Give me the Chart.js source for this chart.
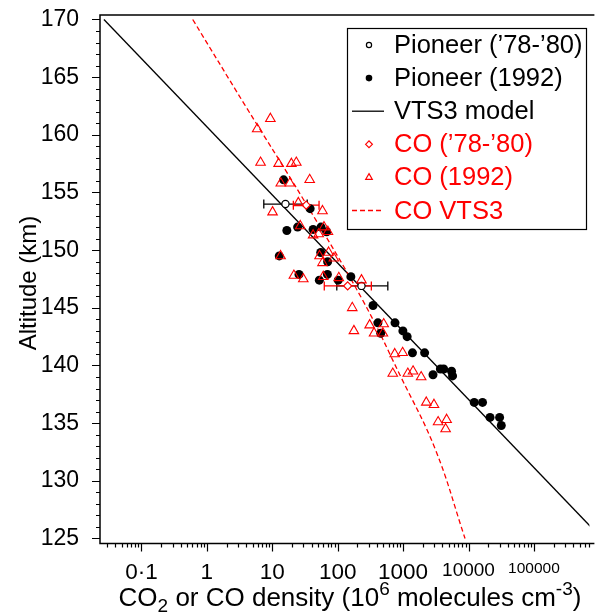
<!DOCTYPE html>
<html><head><meta charset="utf-8">
<script src="https://cdn.jsdelivr.net/npm/chart.js@4.4.1/dist/chart.umd.min.js"></script>
<style>html,body{margin:0;padding:0;background:#fff;overflow:hidden}canvas{display:block}</style>
</head><body>
<canvas id="c" width="596" height="615"></canvas>
<script>
// ---- tick labels ----
const xTickValues = [0.1, 1, 10, 100, 1000, 10000, 100000];
const xTickLabels = ['0·1', '1', '10', '100', '1000', '10000', '100000'];
const yTickValues = [125, 130, 135, 140, 145, 150, 155, 160, 165, 170];

// ---- Pioneer ('78-'80) CO2, with error bars ----
const pioneerOldDensity = [15.9, 231];
const pioneerOldAltitude = [154.0, 146.9];
const pioneerOldLow = [7.42, 96.9];
const pioneerOldHigh = [34.2, 584];

// ---- CO ('78-'80), with error bars ----
const coOldDensity = [33.0, 142];
const coOldAltitude = [153.9, 146.9];
const coOldLow = [21.0, 62.4];
const coOldHigh = [51.9, 327];

// ---- Pioneer (1992) CO2 ----
const pioneer1992Density = [14.9, 37.9, 16.7, 24.4, 42.1, 55.6, 67.8, 12.8, 55.0, 70.2, 25.6, 52.4, 69.7, 102, 159, 347, 412, 752, 455, 993, 1153, 1390, 2133, 2865, 3716, 4169, 5505, 5700, 12230, 16370, 21330, 29870, 31690];
const pioneer1992Altitude = [156.1, 153.6, 151.7, 152.0, 151.8, 152.0, 151.6, 149.5, 149.8, 149.0, 147.9, 147.4, 147.9, 147.4, 147.7, 145.2, 143.7, 143.7, 142.8, 143.0, 142.5, 141.1, 141.1, 139.2, 139.7, 139.7, 139.5, 139.1, 136.8, 136.8, 135.5, 135.5, 134.8];

// ---- CO (1992) ----
const co1992Density = [9.36, 5.88, 6.62, 12.5, 19.6, 23.3, 37.3, 13.5, 18.6, 25.0, 10.1, 58.6, 26.8, 42.1, 51.3, 61.7, 70.9, 13.4, 52.8, 72.6, 87.3, 58.6, 21.4, 29.8, 60.2, 104, 231, 167, 308, 505, 177, 360, 491, 745, 983, 695, 1181, 1420, 1888, 2262, 2966, 3430, 4626, 4467];
const co1992Altitude = [161.4, 160.5, 157.6, 157.5, 157.5, 157.6, 156.1, 155.8, 155.8, 154.1, 153.3, 153.4, 152.1, 151.3, 151.4, 152.0, 151.6, 149.5, 149.5, 149.8, 149.3, 148.9, 147.8, 147.5, 147.7, 147.6, 147.4, 145.0, 143.5, 143.6, 143.0, 142.8, 142.8, 141.0, 141.1, 139.3, 139.3, 139.5, 139.0, 136.8, 136.6, 135.1, 135.3, 134.5];

// ---- VTS3 model (CO2) ----
const vts3Density = [0.0267, 1.1e6];
const vts3Altitude = [170, 125];

// ---- CO VTS3 model ----
const coVts3Density = [0.608, 3.80, 30.3, 239, 926, 3125, 8850];
const coVts3Altitude = [170, 162.6, 154.35, 145.7, 139.0, 132.7, 125];

const FONT = "'Liberation Sans', Arial, Helvetica, sans-serif";
const RED = '#ff0000';
Chart.defaults.font.family = FONT;
Chart.defaults.color = '#000';

const pts = (xs, ys) => xs.map((v, i) => ({x: v, y: ys[i]}));

function errorBars(lo, hi, ys, color) {
  return lo.map((l, i) => ({
    label: '_err', data: [{x: l, y: ys[i]}, {x: hi[i], y: ys[i]}],
    showLine: true, borderColor: color, borderWidth: 1.3,
    pointStyle: 'line', pointRotation: 90, pointRadius: 4.5,
    pointBorderColor: color, pointBorderWidth: 1.3, order: 5
  }));
}

const datasets = [
  {label: 'CO (1992)', data: pts(co1992Density, co1992Altitude), pointStyle: 'triangle',
   pointRadius: 5.5, pointBorderColor: RED, pointBackgroundColor: 'rgba(0,0,0,0)', pointBorderWidth: 1.1, order: 1},
  {label: 'CO (’78-’80)', data: pts(coOldDensity, coOldAltitude), pointStyle: 'rectRot',
   pointRadius: 4, pointBorderColor: RED, pointBackgroundColor: '#fff', pointBorderWidth: 1.2, order: 2},
  {label: 'Pioneer (’78-’80)', data: pts(pioneerOldDensity, pioneerOldAltitude), pointStyle: 'circle',
   pointRadius: 3.6, pointBorderColor: '#000', pointBackgroundColor: '#fff', pointBorderWidth: 1.2, order: 3},
  {label: 'Pioneer (1992)', data: pts(pioneer1992Density, pioneer1992Altitude), pointStyle: 'circle',
   pointRadius: 4.5, pointBorderColor: '#000', pointBackgroundColor: '#000', pointBorderWidth: 0, order: 4},
  ...errorBars(coOldLow, coOldHigh, coOldAltitude, RED),
  ...errorBars(pioneerOldLow, pioneerOldHigh, pioneerOldAltitude, '#000'),
  {label: 'CO VTS3', data: pts(coVts3Density, coVts3Altitude), showLine: true, pointRadius: 0,
   borderColor: RED, borderWidth: 1.3, borderDash: [5, 3], tension: 0.4, order: 6},
  {label: 'VTS3 model', data: pts(vts3Density, vts3Altitude), showLine: true, pointRadius: 0,
   borderColor: '#000', borderWidth: 1.3, order: 7}
];

const legendOrder = ['Pioneer (’78-’80)', 'Pioneer (1992)', 'VTS3 model', 'CO (’78-’80)', 'CO (1992)', 'CO VTS3'];

const framePlugin = {
  id: 'frame',
  afterDraw(chart) {
    const {ctx, chartArea: a, scales: {x, y}} = chart;
    ctx.save();
    ctx.strokeStyle = '#000';
    ctx.lineWidth = 1.5;
    ctx.beginPath();
    ctx.moveTo(a.right + 5, a.top); ctx.lineTo(a.left, a.top);
    ctx.lineTo(a.left, a.bottom); ctx.lineTo(a.right + 5, a.bottom);
    ctx.stroke();
    ctx.lineWidth = 1.2;
    ctx.beginPath();
    for (let e = -2; e <= 6; e++) {
      for (let m = 1; m <= 9; m++) {
        const v = m * Math.pow(10, e);
        if (v < x.min || v > x.max) continue;
        const px = Math.round(x.getPixelForValue(v)) + 0.5;
        const len = m === 1 ? 8 : 4;
        ctx.moveTo(px, a.bottom); ctx.lineTo(px, a.bottom + len);
      }
    }
    for (let v = Math.ceil(y.min); v <= y.max; v++) {
      const py = Math.round(y.getPixelForValue(v)) + 0.5;
      const len = v % 5 === 0 ? 8 : 4;
      ctx.moveTo(a.left, py); ctx.lineTo(a.left - len, py);
    }
    ctx.stroke();

    // y title
    ctx.fillStyle = '#000';
    ctx.save();
    ctx.translate(29, 283);
    ctx.rotate(-Math.PI / 2);
    ctx.font = '24px ' + FONT;
    ctx.textAlign = 'center';
    ctx.textBaseline = 'middle';
    ctx.fillText('Altitude (km)', 0, 0);
    ctx.restore();

    // x title with sub/superscripts
    const segs = [['CO', 0], ['2', -1], [' or CO density (10', 0], ['6', 1], [' molecules cm', 0], ['-3', 1], [')', 0]];
    const big = '26px ' + FONT, small = '19px ' + FONT;
    let total = 0;
    segs.forEach(s => { ctx.font = s[1] ? small : big; total += ctx.measureText(s[0]).width; });
    let cx = 350 - total / 2;
    const base = 606;
    ctx.textAlign = 'left';
    ctx.textBaseline = 'alphabetic';
    segs.forEach(s => {
      ctx.font = s[1] ? small : big;
      const dy = s[1] === -1 ? 6 : (s[1] === 1 ? -11 : 0);
      ctx.fillText(s[0], cx, base + dy);
      cx += ctx.measureText(s[0]).width;
    });
    ctx.restore();
  }
};

const legendPlugin = {
  id: 'boxLegend',
  afterDraw(chart) {
    const ctx = chart.ctx;
    const L = 347.5, T = 28.5, R = 586.5, B = 229.5;
    ctx.save();
    ctx.fillStyle = '#fff';
    ctx.fillRect(L, T, R - L, B - T);
    ctx.strokeStyle = '#000';
    ctx.lineWidth = 1.2;
    ctx.strokeRect(L, T, R - L, B - T);
    legendOrder.forEach((name, i) => {
      const ds = chart.data.datasets.find(d => d.label === name);
      const cy = 45 + i * 33.1;
      const mx = 369;
      const col = ds.showLine ? ds.borderColor : ds.pointBorderColor;
      ctx.strokeStyle = col;
      ctx.fillStyle = col;
      ctx.lineWidth = 1.2;
      ctx.setLineDash([]);
      ctx.beginPath();
      if (ds.showLine) {
        ctx.lineWidth = ds.borderWidth;
        ctx.setLineDash(ds.borderDash || []);
        ctx.moveTo(352, cy); ctx.lineTo(384, cy); ctx.stroke();
        ctx.setLineDash([]);
      } else if (ds.pointStyle === 'circle') {
        const filled = ds.pointBackgroundColor === '#000';
        ctx.arc(mx, cy, filled ? 3.3 : 2.6, 0, Math.PI * 2);
        if (filled) ctx.fill(); else ctx.stroke();
      } else if (ds.pointStyle === 'rectRot') {
        const r = 3.4;
        ctx.moveTo(mx - r, cy); ctx.lineTo(mx, cy - r); ctx.lineTo(mx + r, cy); ctx.lineTo(mx, cy + r); ctx.closePath();
        ctx.stroke();
      } else if (ds.pointStyle === 'triangle') {
        const r = 3.8;
        ctx.moveTo(mx, cy - r); ctx.lineTo(mx + r * 0.866, cy + r / 2); ctx.lineTo(mx - r * 0.866, cy + r / 2); ctx.closePath();
        ctx.stroke();
      }
      ctx.fillStyle = col;
      ctx.font = '25.5px ' + FONT;
      ctx.textAlign = 'left';
      ctx.textBaseline = 'middle';
      ctx.fillText(name, 394, cy + 1);
    });
    ctx.restore();
  }
};

new Chart(document.getElementById('c'), {
  type: 'scatter',
  data: {datasets},
  options: {
    responsive: false, animation: false, devicePixelRatio: 1, events: [],
    layout: {padding: {top: 15, right: 0, left: 0, bottom: 0}},
    plugins: {legend: {display: false}, tooltip: {enabled: false}, title: {display: false}},
    scales: {
      x: {
        type: 'logarithmic', position: 'bottom',
        min: Math.pow(10, -1.6335), max: Math.pow(10, 5.848),
        afterFit: s => { s.height = 71.5; s.paddingLeft = 0; s.paddingRight = 0; },
        afterBuildTicks: s => { s.ticks = xTickValues.map(v => ({value: v, major: true})); },
        grid: {display: false}, border: {display: false},
        ticks: {
          autoSkip: false, maxRotation: 0, minRotation: 0, padding: 8, color: '#000',
          callback: (v, i) => xTickLabels[i],
          font: ctx => ({family: FONT, size: ctx.tick && ctx.tick.value >= 1e5 ? 15.5 : (ctx.tick && ctx.tick.value >= 1e4 ? 19 : 22.5)})
        }
      },
      y: {
        type: 'linear', position: 'left',
        min: 124.566, max: 170.39,
        afterFit: s => { s.width = 100; s.paddingTop = 0; s.paddingBottom = 0; },
        afterBuildTicks: s => { s.ticks = yTickValues.map(v => ({value: v})); },
        grid: {display: false}, border: {display: false},
        ticks: {padding: 13, color: '#000', font: {family: FONT, size: 23}, callback: v => String(v)}
      }
    }
  },
  plugins: [framePlugin, legendPlugin]
});
</script>
</body></html>
